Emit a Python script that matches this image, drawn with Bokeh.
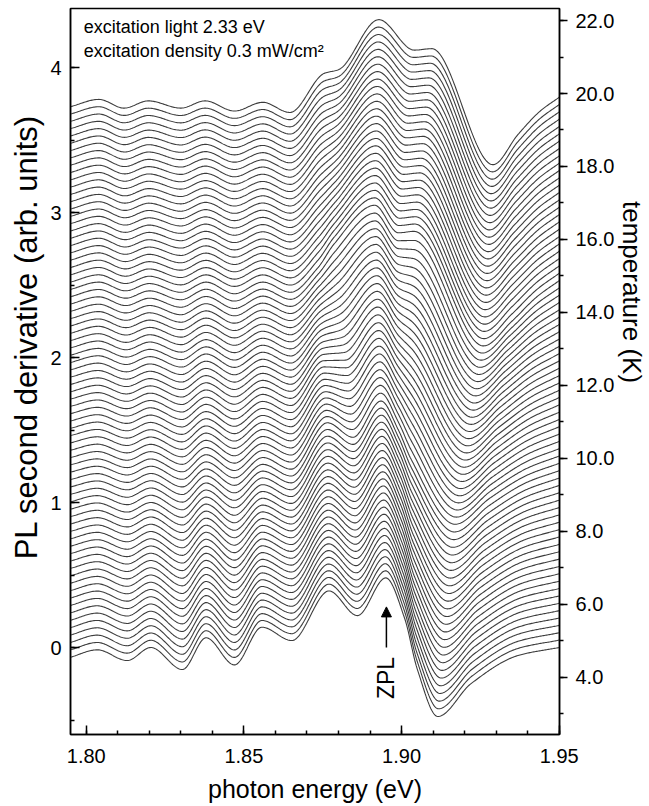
import numpy as np
from bokeh.plotting import figure
from bokeh.models import (Range1d, LinearAxis, SingleIntervalTicker, PrintfTickFormatter,
                          Label, Arrow, NormalHead, ColumnDataSource)
from bokeh.embed import file_html
from bokeh.resources import INLINE

# ---------------- data ----------------
n_curves = 76                      # number of spectra in the waterfall
offset_step = 0.05                 # vertical shift between neighbouring spectra
temperatures = [round(5.0 + 0.2 * i, 1) for i in range(n_curves)]

# key spectra (index in the stack) with their feature points: energy (eV), value (offset removed)
profile_index = [0, 25, 50, 75]
profile_x = [
    [1.795, 1.8035, 1.813, 1.8205, 1.8305, 1.838, 1.847, 1.8557, 1.8652, 1.877, 1.886, 1.895, 1.901, 1.905, 1.9115, 1.922, 1.937, 1.95],
    [1.795, 1.8035, 1.813, 1.8205, 1.8305, 1.838, 1.847, 1.856, 1.865, 1.8765, 1.8846, 1.8935, 1.899, 1.903, 1.917, 1.928, 1.940, 1.95],
    [1.795, 1.804, 1.8125, 1.820, 1.830, 1.838, 1.847, 1.856, 1.8648, 1.8735, 1.8785, 1.8915, 1.899, 1.904, 1.926, 1.935, 1.943, 1.95],
    [1.795, 1.804, 1.812, 1.8197, 1.830, 1.8377, 1.847, 1.856, 1.8646, 1.8755, 1.880, 1.8928, 1.904, 1.9096, 1.929, 1.937, 1.944, 1.95],
]
profile_y = [
    [-0.067, -0.016, -0.09, 0.0, -0.152, 0.067, -0.12, 0.14, 0.048, 0.39, 0.22, 0.48, 0.2, -0.15, -0.476, -0.25, -0.055, 0.0],
    [-0.04, 0.0, -0.06, 0.0, -0.09, 0.03, -0.08, 0.06, -0.02, 0.30, 0.20, 0.45, 0.25, 0.05, -0.40, -0.22, -0.06, 0.02],
    [-0.03, 0.02, -0.04, 0.01, -0.05, 0.02, -0.06, 0.02, -0.05, 0.12, 0.28, 0.55, 0.36, 0.37, -0.42, -0.25, -0.08, 0.03],
    [-0.02, 0.03, -0.03, 0.02, -0.03, 0.02, -0.05, 0.01, -0.06, 0.21, 0.235, 0.58, 0.37, 0.38, -0.42, -0.21, -0.05, 0.045],
]

x_title = "photon energy (eV)"
y_title = "PL second derivative (arb. units)"
t_title = "temperature (K)"
note1 = "excitation light 2.33 eV"
note2 = "excitation density 0.3 mW/cm\u00b2"


# ---------------- smooth monotone-cubic drawing of the feature points ----------------
def pchip(xk, yk, xs):
    xk = np.asarray(xk, float); yk = np.asarray(yk, float)
    h = np.diff(xk); d = np.diff(yk) / h
    n = len(xk); m = np.zeros(n)
    for k in range(1, n - 1):
        if d[k - 1] * d[k] > 0:
            w1 = 2 * h[k] + h[k - 1]; w2 = h[k] + 2 * h[k - 1]
            m[k] = (w1 + w2) / (w1 / d[k - 1] + w2 / d[k])
    m[0] = d[0]; m[-1] = d[-1]
    idx = np.clip(np.searchsorted(xk, xs) - 1, 0, n - 2)
    t = (xs - xk[idx]) / h[idx]
    h00 = 2 * t**3 - 3 * t**2 + 1; h10 = t**3 - 2 * t**2 + t
    h01 = -2 * t**3 + 3 * t**2; h11 = t**3 - t**2
    return h00 * yk[idx] + h10 * h[idx] * m[idx] + h01 * yk[idx + 1] + h11 * h[idx] * m[idx + 1]


xs_fine = np.linspace(1.795, 1.95, 500)
all_x, all_y = [], []
for i in range(n_curves):
    j = np.searchsorted(profile_index, i, side="right") - 1
    j = min(j, len(profile_index) - 2)
    t = (i - profile_index[j]) / (profile_index[j + 1] - profile_index[j])
    kx = (1 - t) * np.array(profile_x[j]) + t * np.array(profile_x[j + 1])
    ky = (1 - t) * np.array(profile_y[j]) + t * np.array(profile_y[j + 1])
    all_x.append(xs_fine.tolist())
    all_y.append((pchip(kx, ky, xs_fine) + offset_step * i).tolist())

# ---------------- figure ----------------
FONT = "Liberation Sans"
NB = "\u00a0"
p = figure(frame_width=489, frame_height=726,
           x_range=Range1d(1.795, 1.9501), y_range=Range1d(-0.6, 4.407),
           output_backend="svg", toolbar_location=None,
           min_border_left=70, min_border_right=90, min_border_top=8, min_border_bottom=71)
p.grid.visible = False
p.outline_line_color = "black"
p.outline_line_width = 1.5
p.background_fill_color = "white"
p.border_fill_color = "white"

src = ColumnDataSource(dict(xs=all_x, ys=all_y))
p.multi_line("xs", "ys", source=src, line_color="#3c3c3c", line_width=1.1)


def style(ax, inside=True, title_size="25px"):
    ax.axis_line_width = 1.5
    ax.axis_line_color = "black"
    ax.major_tick_line_width = 1.5
    ax.minor_tick_line_width = 1.5
    ax.major_tick_line_color = "black"
    ax.minor_tick_line_color = "black"
    ax.axis_label_text_font = FONT
    ax.axis_label_text_font_style = "normal"
    ax.axis_label_text_font_size = title_size
    ax.axis_label_text_color = "black"
    ax.major_label_text_font = FONT
    ax.major_label_text_font_size = "20px"
    ax.major_label_text_color = "black"
    if inside:
        ax.major_tick_in = 9; ax.major_tick_out = 0
        ax.minor_tick_in = 4; ax.minor_tick_out = 0
    else:
        ax.major_tick_in = 0; ax.major_tick_out = 8
        ax.minor_tick_in = 0; ax.minor_tick_out = 4


xa = p.xaxis[0]
xa.ticker = SingleIntervalTicker(interval=0.05, num_minor_ticks=5)
xa.formatter = PrintfTickFormatter(format="%.2f")
xa.axis_label = x_title
style(xa)
xa.major_label_standoff = 14
xa.axis_label_standoff = 9

ya = p.yaxis[0]
ya.ticker = SingleIntervalTicker(interval=1, num_minor_ticks=2)
# leading no-break spaces move the title up, as in the reference
ya.axis_label = NB * 8 + y_title
style(ya, title_size="31px")
ya.major_label_standoff = 9
ya.axis_label_standoff = 3

p.extra_y_ranges = {"T": Range1d(2.43, 22.33)}
ta = LinearAxis(y_range_name="T",
                ticker=SingleIntervalTicker(interval=2, num_minor_ticks=2),
                formatter=PrintfTickFormatter(format="%.1f"))
style(ta, inside=False, title_size="26px")
ta.axis_label = t_title + NB * 22
ta.major_label_standoff = 8
ta.axis_label_standoff = 0
p.add_layout(ta, "right")

# annotations
p.add_layout(Label(x=1.7992, y=4.276, text=note1, text_font=FONT, text_font_size="18px",
                   text_color="black", text_baseline="middle"))
p.add_layout(Label(x=1.7992, y=4.117, text=note2, text_font=FONT, text_font_size="18px",
                   text_color="black", text_baseline="middle"))
p.add_layout(Label(x=1.8952, y=-0.21, text="ZPL", angle=np.pi / 2, text_font=FONT,
                   text_font_size="23px", text_color="black",
                   text_align="center", text_baseline="middle"))
p.add_layout(Arrow(end=NormalHead(size=10, fill_color="black", line_color="black"),
                   x_start=1.8952, y_start=0.0, x_end=1.8952, y_end=0.28,
                   line_width=1.5, line_color="black"))

open("out.html", "w").write(file_html(p, INLINE))
